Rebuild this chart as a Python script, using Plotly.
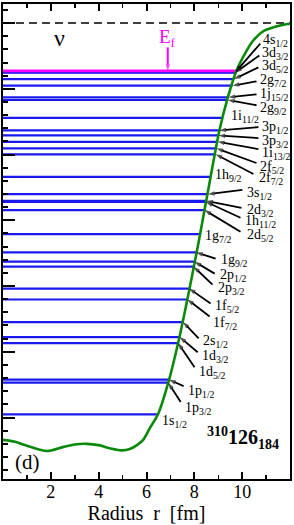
import plotly.graph_objects as go

# ---------------- data ----------------
# single-particle levels: name, energy (MeV), radius where the level meets the potential (fm)
level_names = ["4s_1/2", "3d_3/2", "3d_5/2", "2g_7/2", "1j_15/2", "2g_9/2", "1i_11/2",
               "3p_1/2", "3p_3/2", "1i_13/2", "2f_5/2", "2f_7/2", "1h_9/2",
               "3s_1/2", "2d_3/2", "1h_11/2", "2d_5/2", "1g_7/2", "1g_9/2",
               "2p_1/2", "2p_3/2", "1f_5/2", "1f_7/2", "2s_1/2", "1d_3/2", "1d_5/2",
               "1p_1/2", "1p_3/2", "1s_1/2"]
level_E = [-7.45, -7.55, -8.52, -9.52, -11.29, -11.70, -14.42,
           -16.33, -17.09, -18.06, -19.06, -19.97, -23.41,
           -26.03, -27.05, -27.20, -28.45, -32.09, -34.88,
           -36.29, -37.05, -40.38, -42.05, -45.48, -47.76, -48.67,
           -54.24, -54.70, -59.52]
level_r_end = [9.72, 9.71, 9.66, 9.60, 9.43, 9.40, 9.19,
               9.05, 9.01, 8.98, 8.93, 8.89, 8.68,
               8.57, 8.50, 8.49, 8.43, 8.22, 8.08,
               8.01, 7.97, 7.78, 7.71, 7.53, 7.39, 7.32,
               6.95, 6.91, 6.48]

fermi_E = -7.27
fermi_r_end = 9.74

# mean-field potential (r in fm, V in MeV)
pot_r = [0.0, 0.5, 1.0, 1.83, 2.5, 3.0, 3.5, 4.0, 4.5, 5.0, 5.3, 5.6, 5.86, 6.14,
         6.48, 6.94, 7.32, 7.71, 8.19, 8.68, 9.05, 9.40, 9.75, 10.17, 10.43, 10.86,
         11.42, 11.89, 12.0]
pot_V = [-63.4, -63.7, -64.3, -65.1, -64.5, -64.1, -64.0, -64.2, -64.7, -65.0, -64.8,
         -64.2, -63.4, -61.6, -59.5, -54.3, -48.7, -42.0, -33.1, -23.4, -16.3, -11.3,
         -7.35, -4.32, -2.80, -1.29, -0.53, -0.15, -0.10]

x_ticks = [2, 4, 6, 8, 10]
x_minor = [1, 3, 5, 7, 9, 11]

# label placement (r, E) of label left edge; arrow tail (r, E) or None for plain labels
label_pos = [(10.79, -2.2), (10.75, -4.17), (10.75, -6.14), (10.68, -8.26), (10.68, -10.38),
             (10.68, -12.5), (9.43, -13.71), (10.75, -15.38), (10.75, -17.5), (10.75, -19.32),
             (10.68, -21.44), (10.64, -23.26), (8.76, -22.8), (10.10, -25.53), (10.10, -28.11),
             (10.03, -29.77), (10.10, -31.89), (8.36, -32.05), (9.05, -35.68), (8.98, -37.95),
             (8.92, -39.92), (8.80, -42.65), (8.71, -45.23), (8.26, -47.95), (8.22, -50.23),
             (8.11, -52.65), (7.67, -55.53), (7.53, -58.11), (6.58, -60.08)]
arrow_tail = [(10.76, -3.11), (10.72, -4.92), (10.68, -6.74), (10.60, -8.86), (10.60, -10.83),
              (10.60, -12.5), None, (10.68, -15.83), (10.68, -17.5), (10.68, -19.17),
              (10.60, -21.29), (10.47, -22.95), None, (10.01, -25.38), (9.97, -28.11),
              (9.93, -29.62), (9.93, -31.74), None, (8.89, -35.83), (8.85, -38.11),
              (8.76, -39.77), (8.68, -42.65), (8.64, -44.62), (8.18, -47.95), (8.14, -50.08),
              (8.01, -52.35), (7.55, -55.23), (7.43, -57.65), None]

fermi_arrow_tail_E = -3.7
fermi_label_r = 6.89

SERIF = "Liberation Serif"

fig = go.Figure()

# zero-energy dashed line
fig.add_trace(go.Scatter(x=[0, 12], y=[0, 0], mode="lines",
                         line=dict(color="black", width=1.6, dash="8px,5px"),
                         hoverinfo="skip", showlegend=False))

# levels
lx, ly = [], []
for E, r in zip(level_E, level_r_end):
    lx += [0, r, None]
    ly += [E, E, None]
fig.add_trace(go.Scatter(x=lx, y=ly, mode="lines", line=dict(color="#1a1aee", width=2.2),
                         hoverinfo="skip", showlegend=False))
# Fermi level
fig.add_trace(go.Scatter(x=[0, fermi_r_end], y=[fermi_E, fermi_E], mode="lines",
                         line=dict(color="#ff00ff", width=2.6), hoverinfo="skip", showlegend=False))
# potential
fig.add_trace(go.Scatter(x=pot_r, y=pot_V, mode="lines",
                         line=dict(color="#0a8a0a", width=2.6, shape="spline", smoothing=0.8),
                         hoverinfo="skip", showlegend=False))

# arrows (shaft + head marker)
ax_, ay_, sz, sym = [], [], [], []
for E, r, tail in zip(level_E, level_r_end, arrow_tail):
    if tail is None:
        continue
    ax_ += [tail[0], r, None]
    ay_ += [tail[1], E, None]
    sz += [0, 7, 0]
    sym += ["circle", "arrow", "circle"]
fig.add_trace(go.Scatter(x=ax_, y=ay_, mode="lines+markers",
                         line=dict(color="black", width=1.8),
                         marker=dict(size=sz, symbol=sym, color="black", angleref="previous",
                                     line=dict(width=0)),
                         hoverinfo="skip", showlegend=False))
# Fermi arrow
fig.add_trace(go.Scatter(x=[fermi_label_r, fermi_label_r], y=[fermi_arrow_tail_E, fermi_E],
                         mode="lines+markers", line=dict(color="#ff00ff", width=2),
                         marker=dict(size=[0, 7], symbol=["circle", "arrow"], color="#ff00ff",
                                     angleref="previous", line=dict(width=0)),
                         hoverinfo="skip", showlegend=False))

ann = []
for name, lp in zip(level_names, label_pos):
    main, sub = name.split("_")
    ann.append(dict(x=lp[0], y=lp[1], xref="x", yref="y", text=f"{main}<sub>{sub}</sub>",
                    showarrow=False, xanchor="left", yanchor="middle", yshift=-3,
                    font=dict(family=SERIF, size=14, color="black")))

ann.append(dict(x=fermi_label_r, y=-2.3, xref="x", yref="y", text="E<sub>f</sub>", showarrow=False,
                xanchor="center", yanchor="middle", font=dict(family=SERIF, size=19, color="#ff00ff")))
ann.append(dict(x=2.35, y=-2.2, xref="x", yref="y", text="ν", showarrow=False,
                xanchor="center", yanchor="middle", font=dict(family=SERIF, size=24, color="black")))
ann.append(dict(x=0.42, y=-66.7, xref="x", yref="y", text="(d)", showarrow=False,
                xanchor="left", yanchor="middle", font=dict(family=SERIF, size=21, color="black")))
ann.append(dict(x=8.43, y=-63.1, xref="x", yref="y",
                text="<b><sup>310</sup>126<sub>184</sub></b>", showarrow=False,
                xanchor="left", yanchor="middle", font=dict(family=SERIF, size=20, color="black")))

fig.update_layout(
    width=294, height=525,
    margin=dict(l=3, r=3, t=2, b=46, pad=0),
    paper_bgcolor="white", plot_bgcolor="white",
    annotations=ann,
    font=dict(family=SERIF, color="black"),
    xaxis=dict(range=[0, 12], tickvals=x_ticks, ticktext=[str(v) for v in x_ticks],
               ticks="inside", ticklen=7, tickwidth=2, tickcolor="black",
               minor=dict(tickvals=x_minor, ticks="inside", ticklen=4, tickwidth=1.5, tickcolor="black"),
               showline=True, linewidth=2, linecolor="black", mirror="ticks",
               showgrid=False, zeroline=False, ticklabelstandoff=-5,
               tickfont=dict(family=SERIF, size=18, color="black"),
               title=dict(text="Radius  r  [fm]", font=dict(family=SERIF, size=20, color="black"),
                          standoff=4)),
    yaxis=dict(range=[-69.35, 2.9], tick0=0, dtick=10,
               ticks="inside", ticklen=12, tickwidth=2, tickcolor="black",
               minor=dict(dtick=2, ticks="inside", ticklen=5, tickwidth=2, tickcolor="black"),
               showticklabels=False, showline=True, linewidth=2, linecolor="black", mirror=True,
               showgrid=False, zeroline=False),
)

fig.write_html("out.html", config={"displayModeBar": False, "staticPlot": True},
               post_script="document.body.style.margin='0';document.body.style.overflow='hidden';")
